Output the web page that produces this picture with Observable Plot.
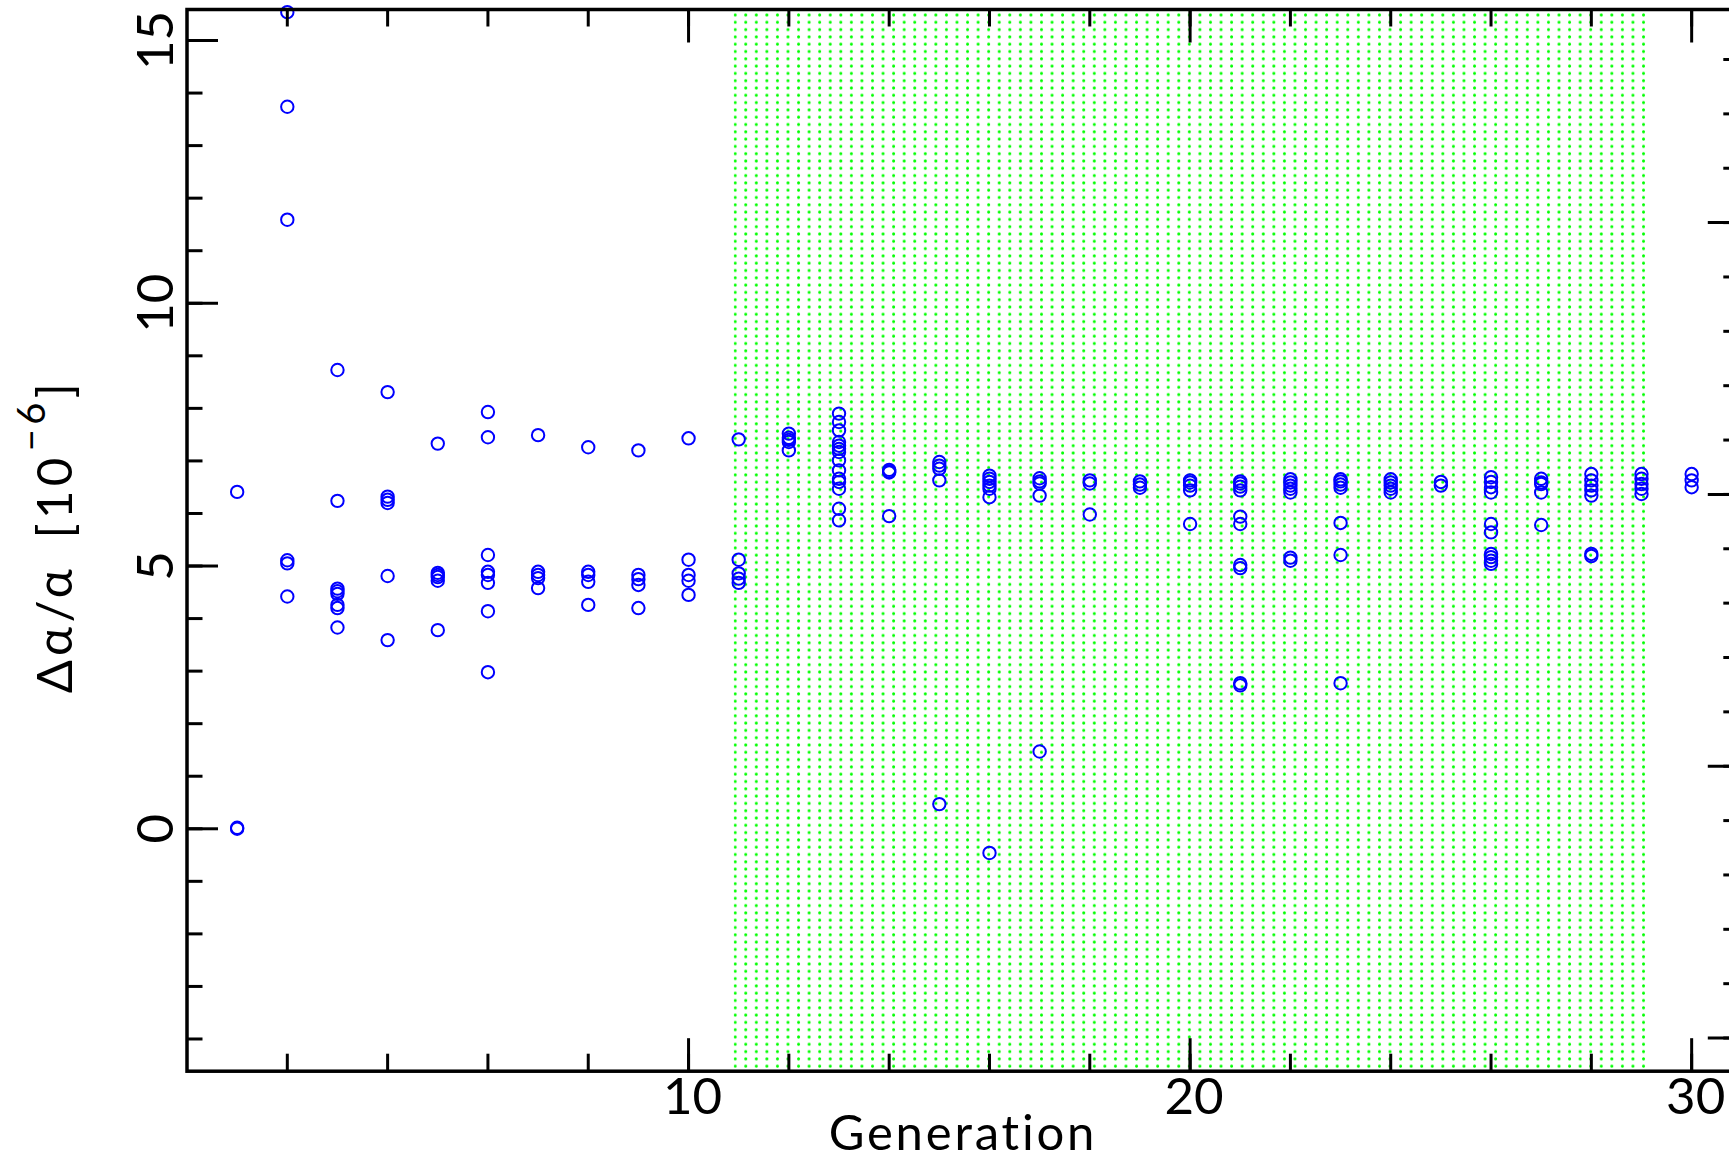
<!DOCTYPE html>
<html>
<head>
<meta charset="utf-8">
<script src="https://cdn.jsdelivr.net/npm/d3@7"></script>
<script src="https://cdn.jsdelivr.net/npm/@observablehq/plot@0.6"></script>
<style>
  html, body { margin: 0; padding: 0; background: #fff; overflow: hidden; }
  svg text { font-variant-ligatures: none; font-feature-settings: "liga" 0, "clig" 0; }
</style>
</head>
<body>
<div id="chart"></div>
<script>
// Generations on the horizontal axis
const generation = d3.range(1, 31);

// Δα/α values (units of 1e-6) recorded at each generation
const deltaAlpha = [
  [6.41, 0.02, 0.0],
  [15.54, 13.74, 11.59, 5.11, 5.05, 4.42],
  [8.73, 6.24, 4.57, 4.52, 4.47, 4.26, 4.2, 3.83],
  [8.31, 6.32, 6.26, 6.2, 4.81, 3.59],
  [7.33, 4.87, 4.83, 4.79, 4.72, 3.78],
  [7.93, 7.45, 5.21, 4.89, 4.83, 4.68, 4.14, 2.98],
  [7.49, 4.89, 4.83, 4.77, 4.58],
  [7.26, 4.89, 4.83, 4.7, 4.26],
  [7.2, 4.83, 4.75, 4.64, 4.2],
  [7.43, 5.12, 4.83, 4.72, 4.45],
  [7.41, 5.12, 4.86, 4.76, 4.68],
  [7.52, 7.44, 7.4, 7.36, 7.2],
  [7.9, 7.74, 7.58, 7.36, 7.29, 7.23, 7.17, 7.01, 6.82, 6.66, 6.6, 6.47, 6.09, 5.87],
  [6.83, 6.8, 6.78, 5.95],
  [6.98, 6.91, 6.85, 6.63, 0.47],
  [6.72, 6.66, 6.6, 6.53, 6.47, 6.31, -0.46],
  [6.67, 6.61, 6.57, 6.34, 1.47],
  [6.63, 6.57, 5.98],
  [6.61, 6.55, 6.49],
  [6.63, 6.59, 6.53, 6.44, 5.8],
  [6.61, 6.57, 6.51, 6.44, 5.94, 5.8, 5.02, 4.96, 2.77, 2.73],
  [6.65, 6.59, 6.53, 6.47, 6.4, 5.16, 5.1],
  [6.65, 6.61, 6.55, 6.49, 5.82, 5.21, 2.77],
  [6.65, 6.59, 6.53, 6.47, 6.4],
  [6.6, 6.53],
  [6.69, 6.6, 6.5, 6.4, 5.8, 5.64, 5.23, 5.17, 5.1, 5.04],
  [6.66, 6.59, 6.56, 6.4, 5.78],
  [6.75, 6.63, 6.53, 6.44, 6.34, 5.23, 5.19],
  [6.75, 6.66, 6.56, 6.47, 6.37],
  [6.75, 6.63, 6.5]
];

// Shaded generation window
const greenBand = [10.91, 29.09];

// Axis extents and tick values
const xDomain = [0, 30.94];
const yDomain = [-4.613, 15.59];
const rightDomain = [-5.61, 13.92];      // secondary scale along the right edge
const xMajor = [10, 20, 30];
const xMinor = d3.range(2, 31, 2);
const yMajor = [0, 5, 10, 15];
const yMinor = d3.range(-4, 16);
const rightMajorValues = [-5, 0, 5, 10];
const rightMinorValues = d3.range(-5, 14);

const rows = generation.flatMap((g, i) => deltaAlpha[i].map(v => ({generation: g, value: v})));

// express the secondary scale's ticks in primary y units
const toPrimary = d3.scaleLinear().domain(rightDomain).range(yDomain);
const rightMajor = rightMajorValues.map(toPrimary);
const rightMinor = rightMinorValues.map(toPrimary);

const W = 1729, H = 1159;
const font = "Lato, 'DejaVu Sans', sans-serif";
const tickStyle = {strokeWidth: 3, stroke: "black", fill: "none", label: null};
const intFormat = d3.format("d");

const chart = Plot.plot({
  width: W,
  height: H,
  marginLeft: 186.5,
  marginRight: W - 1738.3,
  marginTop: 9,
  marginBottom: H - 1070.7,
  x: {domain: xDomain, axis: null},
  y: {domain: yDomain, axis: null},
  style: {fontFamily: font, background: "white", color: "black"},
  marks: [
    Plot.rect([greenBand], {x1: d => d[0], x2: d => d[1], fill: "url(#green-dots)"}),
    Plot.dot(rows, {x: "generation", y: "value", r: 6.2, stroke: "#0000ff", strokeWidth: 2, fill: "none"}),

    // bottom axis
    Plot.axisX(xMinor, {anchor: "bottom", tickSize: -17, ...tickStyle}),
    Plot.axisX(xMajor, {anchor: "bottom", tickSize: -32.5, ...tickStyle}),
    Plot.axisX(xMajor, {anchor: "bottom", tickSize: 0, tickPadding: 7, fontSize: 51, dx: 4, tickFormat: intFormat, label: null}),

    // top axis
    Plot.axisX(xMinor, {anchor: "top", tickSize: -16.5, ...tickStyle}),
    Plot.axisX(xMajor, {anchor: "top", tickSize: -32.5, ...tickStyle}),

    // left axis
    Plot.axisY(yMinor, {anchor: "left", tickSize: -16, ...tickStyle}),
    Plot.axisY(yMajor, {anchor: "left", tickSize: -31.5, ...tickStyle}),
    Plot.axisY(yMajor, {anchor: "left", tickSize: 0, tickPadding: 14, tickRotate: -90, fontSize: 51, tickFormat: intFormat, label: null}),

    // right axis
    Plot.axisY(rightMinor, {anchor: "right", tickSize: -16, ...tickStyle}),
    Plot.axisY(rightMajor, {anchor: "right", tickSize: -31.5, ...tickStyle}),

    Plot.frame({stroke: "black", strokeWidth: 3.5}),

    Plot.text(["Generation"], {
      text: d => d, frameAnchor: "bottom", dy: 79, lineAnchor: "bottom",
      fontSize: 49, style: "letter-spacing: 2.8px"
    })
  ]
});

document.getElementById("chart").appendChild(chart);

// letter spacing for the axis title
d3.select(chart).selectAll("text").filter(function () { return this.textContent === "Generation"; })
  .style("letter-spacing", "2.8px");

// dotted green fill for the shaded window
const svg = d3.select(chart);
const x0 = chart.scale("x").apply(greenBand[0]);
const pattern = svg.insert("defs", ":first-child")
  .append("pattern")
  .attr("id", "green-dots")
  .attr("patternUnits", "userSpaceOnUse")
  .attr("x", x0)
  .attr("y", 15 - 3.65)
  .attr("width", 10.562)
  .attr("height", 7.3);
pattern.append("circle")
  .attr("cx", 1.5)
  .attr("cy", 3.65)
  .attr("r", 1.5)
  .attr("fill", "#00ff00");

// y-axis title with superscript exponent
const title = svg.append("text")
  .attr("transform", "translate(72,536) rotate(-90)")
  .attr("text-anchor", "middle")
  .attr("font-family", font)
  .attr("font-size", 49)
  .attr("fill", "black")
  .style("letter-spacing", "4.5px");
title.append("tspan").text("Δα/α");
title.append("tspan").attr("dx", 26).text("[10");
title.append("tspan").attr("font-size", 38).attr("dy", -27).attr("dx", 2).text("−6");
title.append("tspan").attr("dy", 27).text("]");
</script>
</body>
</html>
